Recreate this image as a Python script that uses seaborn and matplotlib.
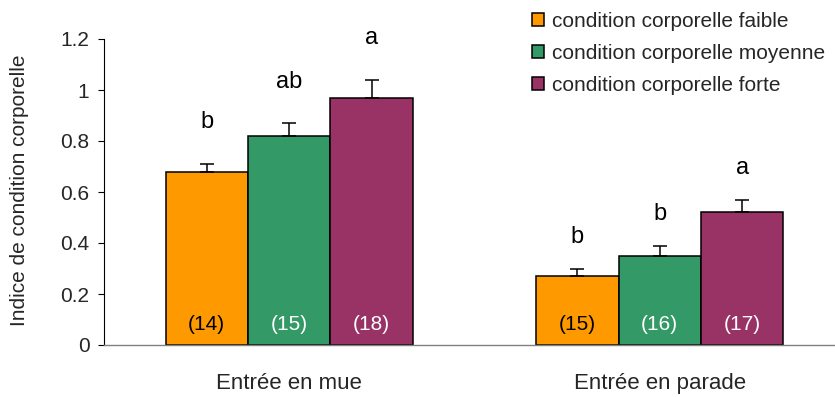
import matplotlib
matplotlib.use("Agg")
import matplotlib.pyplot as plt
import seaborn as sns
import pandas as pd

# Data
phases = ["Entrée en mue", "Entrée en parade"]
conditions = ["condition corporelle faible",
              "condition corporelle moyenne",
              "condition corporelle forte"]
means_mue = [0.68, 0.82, 0.97]
means_parade = [0.27, 0.35, 0.52]
se_mue = [0.03, 0.05, 0.07]
se_parade = [0.03, 0.04, 0.05]
n_mue = [14, 15, 18]
n_parade = [15, 16, 17]
letters_mue = ["b", "ab", "a"]
letters_parade = ["b", "b", "a"]

colors = ["#FF9900", "#339966", "#993366"]
n_text_colors = ["black", "white", "white"]

sns.set_theme(style="white")
plt.rcParams["font.family"] = ["Liberation Sans", "DejaVu Sans"]

rows = []
for ph, means, ses, ns, lets in [(phases[0], means_mue, se_mue, n_mue, letters_mue),
                                 (phases[1], means_parade, se_parade, n_parade, letters_parade)]:
    for cond, m, s, n, l in zip(conditions, means, ses, ns, lets):
        rows.append(dict(phase=ph, condition=cond, mean=m, se=s, n=n, letter=l))
df = pd.DataFrame(rows)

fig = plt.figure(figsize=(8.35, 3.97), dpi=100)
ax = fig.add_axes([104 / 835, 52 / 397, 1 - 104 / 835, 306 / 397])

sns.barplot(data=df, x="phase", y="mean", hue="condition", order=phases,
            hue_order=conditions, palette=colors, width=0.668, errorbar=None,
            edgecolor="black", linewidth=1.1, saturation=1, ax=ax)

# Bars are drawn hue by hue; map each patch back to its row
bars = [p for p in ax.patches if p.get_height() > 0]
bars.sort(key=lambda p: p.get_x())
order_key = {**{p: i for i, p in enumerate(phases)},
             **{k: i for i, k in enumerate(conditions)}}
ordered = df.sort_values(["phase", "condition"], key=lambda c: c.map(order_key))
for bar, (_, r) in zip(bars, ordered.iterrows()):
    cx = bar.get_x() + bar.get_width() / 2
    ci = conditions.index(r["condition"])
    ax.errorbar(cx, r["mean"], yerr=[[0], [r["se"]]], fmt="none", ecolor="black",
                elinewidth=1.1, capsize=5, capthick=1.1, zorder=1)
    ax.text(cx, 0.08, f"({r['n']})", ha="center", va="center", fontsize=15,
            color=n_text_colors[ci])
    pad = 0.12 if r["phase"] == phases[0] else 0.08
    ax.text(cx, r["mean"] + r["se"] + pad, r["letter"], ha="center", va="bottom",
            fontsize=17, color="black")

ax.set_ylim(0, 1.2)
ax.set_xlim(-0.5, -0.5 + 731 / 370.5)
ax.set_yticks([0, 0.2, 0.4, 0.6, 0.8, 1.0, 1.2])
ax.set_yticklabels(["0", "0.2", "0.4", "0.6", "0.8", "1", "1.2"])
ax.tick_params(axis="y", direction="out", length=4.5, width=0.8, color="black",
               labelsize=15, pad=6, left=True)
ax.tick_params(axis="x", length=0, labelsize=16, pad=20)
ax.set_xlabel("")
ax.set_ylabel("")

for side in ["top", "right"]:
    ax.spines[side].set_visible(False)
ax.spines["left"].set_color("black")
ax.spines["left"].set_linewidth(0.8)
ax.spines["bottom"].set_color("#808080")
ax.spines["bottom"].set_linewidth(1.0)

fig.text(20 / 835, 1 - 190 / 397, "Indice de condition corporelle", rotation=90,
         ha="center", va="center", fontsize=15)

handles, labels = ax.get_legend_handles_labels()
ax.legend(handles, labels, loc="upper left", bbox_to_anchor=(532 / 835, 1 - 12 / 397),
          bbox_transform=fig.transFigure, frameon=False, fontsize=15,
          handlelength=0.58, handleheight=0.58, handletextpad=0.4,
          labelspacing=0.62, borderaxespad=0, borderpad=0)

fig.savefig("out.png", dpi=100)
